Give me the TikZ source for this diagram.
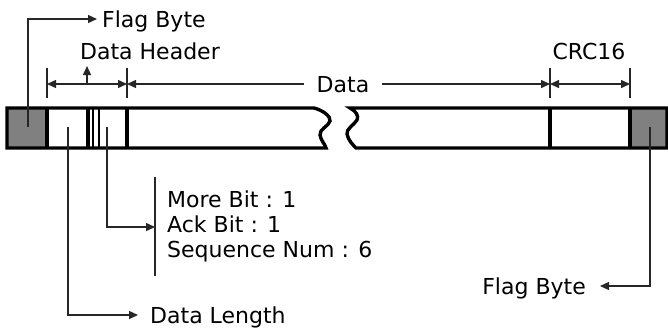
\documentclass[tikz,border=0pt]{standalone}
\usepackage{fontspec}
\setmainfont{DejaVu Sans}
\usetikzlibrary{arrows.meta}
\begin{document}
\begin{tikzpicture}[x=1pt,y=-1pt,
  bar/.style={line width=3.4pt, line join=miter},
  fine/.style={line width=1.3pt},
  conn/.style={line width=1.4pt, draw=black!85},
  arr/.style={conn, -{Triangle[length=9pt,width=8pt]}},
  dim/.style={conn, {Triangle[length=9pt,width=8pt]}-{Triangle[length=9pt,width=8pt]}},
  lbl/.style={font=\fontsize{22}{26}\selectfont, inner sep=0pt, text height=16pt, text depth=0pt},
  flagfill/.style={fill=black!50}
]
\useasboundingbox (0,0) rectangle (668,327);

% ---- frame -------------------------------------------------------
% flag fields
\fill[flagfill] (7,108) rectangle (47,148);
\fill[flagfill] (630,108) rectangle (667,148);
% left part of the frame, ending in a torn edge
\draw[bar] (314,108) -- (7,108) -- (7,148) -- (326,148)
  .. controls (325,144) and (321,141) .. (320,135)
  .. controls (319,129) and (329,126) .. (330,121)
  .. controls (331,116) and (322,110) .. cycle;
% right part of the frame, starting with a torn edge
\draw[bar] (350,108)
  .. controls (356,111) and (359,116) .. (357,120)
  .. controls (354,125) and (346,129) .. (347,134)
  .. controls (348,140) and (353,145) .. (356,148)
  -- (667,148) -- (667,108) -- cycle;
% field boundaries
\draw[bar] (47,108) -- (47,148);
\draw[bar] (88,108) -- (88,148);
\draw[fine] (93,108) -- (93,148);
\draw[fine] (99,108) -- (99,148);
\draw[bar] (127,108) -- (127,148);
\draw[bar] (550,108) -- (550,148);
\draw[bar] (630,108) -- (630,148);

% ---- dimension marks above the frame ------------------------------
\foreach \x/\n in {47/e0,127/e1,550/e2,630/e3}{
  \draw[conn] (\x,68) -- (\x,98);
  \coordinate (\n) at (\x,84);
}
\draw[dim] (e0) -- (e1);
\node[lbl, inner xsep=13pt] (data) at (343,84) {Data};
\draw[arr] (data.west) -- (e1);
\draw[arr] (data.east) -- (e2);
\draw[dim] (e2) -- (e3);

\node[lbl] (hdr) at (150,51) {Data Header};
\node[lbl] (crc) at (589,51) {CRC16};
\coordinate (hm) at (87,84);
\coordinate (hdrtip) at (87,66);
\draw[arr] (hm) -- (hdrtip);

% ---- field call-outs ------------------------------------------------
\coordinate (flagL) at (28,127);
\coordinate (flagR) at (650,127);
\coordinate (lenF) at (68,127);
\coordinate (seqF) at (107,127);

\node[lbl, anchor=west] (ftop) at (102,19) {Flag Byte};
\draw[arr, shorten >=5pt] (flagL) |- (ftop.west);

\node[lbl, anchor=west] (len) at (150,315) {Data Length};
\draw[arr, shorten >=12pt] (lenF) |- (len.west);

\node[lbl, anchor=east] (fbot) at (586,286) {Flag Byte};
\draw[arr, shorten >=14pt] (flagR) |- (fbot.east);

\coordinate (bt) at (155,177);
\coordinate (bb) at (155,276);
\coordinate (bm) at (155,227);
\draw[conn] (bt) -- (bb);
\draw[arr] (seqF) |- (bm);
\node[lbl, anchor=base west] (more) at (167,207) {More Bit : 1};
\node[lbl, anchor=base west] (ack) at (167,232) {Ack Bit : 1};
\node[lbl, anchor=base west] (seq) at (167,257) {Sequence Num : 6};
\end{tikzpicture}
\end{document}
